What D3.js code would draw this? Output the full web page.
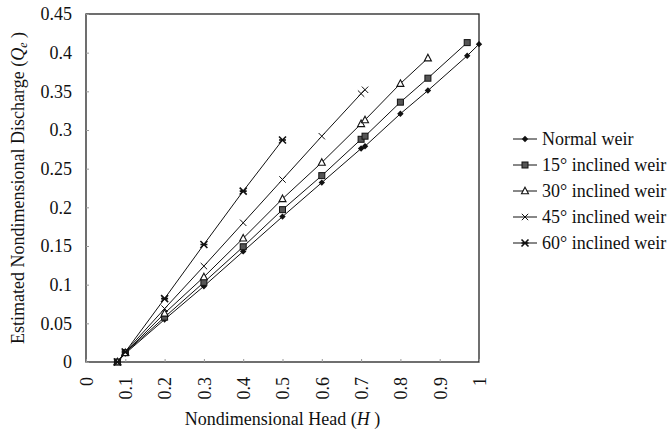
<!DOCTYPE html>
<html>
<head>
<meta charset="utf-8">
<script src="https://cdn.jsdelivr.net/npm/d3@7"></script>
<style>
  body { margin: 0; background: #fff; }
  svg text { font-family: "Liberation Serif", "Times New Roman", serif !important; fill: #111; }
</style>
</head>
<body>
<script>
var margin = {top: 14, left: 86, right: 191, bottom: 69};
var width = 670 - margin.left - margin.right;
var height = 431 - margin.top - margin.bottom;
var fontSize = 18;

// data: H and Qe for each weir
var seriesNames = ["Normal weir", "15\u00b0 inclined weir", "30\u00b0 inclined weir", "45\u00b0 inclined weir", "60\u00b0 inclined weir"];
var markers = ["diamond", "square", "triangle", "cross", "star"];

var hNormal = [0.08, 0.1, 0.2, 0.3, 0.4, 0.5, 0.6, 0.70, 0.71, 0.8, 0.87, 0.97, 1.0];
var qNormal = [0, 0.011, 0.055, 0.098, 0.143, 0.188, 0.232, 0.276, 0.279, 0.321, 0.351, 0.396, 0.411];

var h15 = [0.08, 0.1, 0.2, 0.3, 0.4, 0.5, 0.6, 0.70, 0.71, 0.8, 0.87, 0.97];
var q15 = [0, 0.012, 0.058, 0.103, 0.149, 0.197, 0.241, 0.288, 0.292, 0.336, 0.367, 0.413];

var h30 = [0.08, 0.1, 0.2, 0.3, 0.4, 0.5, 0.6, 0.70, 0.71, 0.8, 0.87];
var q30 = [0, 0.012, 0.063, 0.110, 0.160, 0.211, 0.258, 0.308, 0.313, 0.360, 0.393];

var h45 = [0.08, 0.1, 0.2, 0.3, 0.4, 0.5, 0.6, 0.70, 0.71];
var q45 = [0, 0.013, 0.069, 0.124, 0.180, 0.236, 0.292, 0.347, 0.352];

var h60 = [0.08, 0.1, 0.2, 0.3, 0.4, 0.5];
var q60 = [0, 0.013, 0.082, 0.152, 0.221, 0.287];

var xTicks = [0, 0.1, 0.2, 0.3, 0.4, 0.5, 0.6, 0.7, 0.8, 0.9, 1];
var yTicks = [0, 0.05, 0.1, 0.15, 0.2, 0.25, 0.3, 0.35, 0.4, 0.45];

var hs = [hNormal, h15, h30, h45, h60];
var qs = [qNormal, q15, q30, q45, q60];
var dataset = hs.map(function(h, i) {
  return h.map(function(v, j) { return {x: v, y: qs[i][j]}; });
});

var svg = d3.select("body")
            .append("svg")
            .attr("width", 670)
            .attr("height", 431)
            .style("font-family", "'Liberation Serif', serif");

var g = svg.append("g")
           .attr("transform", "translate(" + margin.left + "," + margin.top + ")");

var xScale = d3.scaleLinear().domain([0, 1]).range([0, width]);
var yScale = d3.scaleLinear().domain([0, 0.45]).range([height, 0]);

//frame
g.append("rect")
  .attr("width", width)
  .attr("height", height)
  .attr("fill", "none")
  .attr("stroke", "#222")
  .attr("stroke-width", 1.3);

//Y axis
var yAxis = d3.axisLeft(yScale)
              .tickValues(yTicks)
              .tickSize(-3)
              .tickPadding(14)
              .tickFormat(function(d) { return d3.format("")(+d.toFixed(2)); });

var yg = g.append("g")
  .attr("class", "axis")
  .call(yAxis);
yg.select(".domain").remove();
yg.selectAll("line").attr("stroke", "#999");
yg.selectAll("text").attr("font-size", fontSize).attr("font-family", "Liberation Serif");

//X axis
var xAxis = d3.axisBottom(xScale)
              .tickValues(xTicks)
              .tickSize(-3)
              .tickFormat(function(d) { return d3.format("")(+d.toFixed(1)); });

var xg = g.append("g")
  .attr("class", "axis")
  .attr("transform", "translate(0," + height + ")")
  .call(xAxis);
xg.select(".domain").remove();
xg.selectAll("line").attr("stroke", "#999");
xg.selectAll("text")
  .attr("font-size", fontSize)
  .attr("font-family", "Liberation Serif")
  .attr("transform", "rotate(-90)")
  .attr("x", -15)
  .attr("y", 0)
  .attr("dy", "0.35em")
  .attr("text-anchor", "end");

//lines
var line = d3.line()
             .x(function(d) { return xScale(d.x); })
             .y(function(d) { return yScale(d.y); });

g.selectAll(".series")
  .data(dataset)
  .enter()
  .append("path")
  .attr("class", "series")
  .attr("d", line)
  .attr("fill", "none")
  .attr("stroke", "#111")
  .attr("stroke-width", 1);

function drawMarker(sel, type) {
  if (type == "diamond") {
    sel.append("path").attr("d", "M0,-3.2L3.2,0L0,3.2L-3.2,0Z").attr("fill", "#111");
  } else if (type == "square") {
    sel.append("rect").attr("x", -3).attr("y", -3).attr("width", 6).attr("height", 6)
       .attr("fill", "#555").attr("stroke", "#111").attr("stroke-width", 1);
  } else if (type == "triangle") {
    sel.append("path").attr("d", "M0,-3.8L3.5,2.8L-3.5,2.8Z").attr("fill", "#fff")
       .attr("stroke", "#111").attr("stroke-width", 1.1);
  } else if (type == "cross") {
    sel.append("path").attr("d", "M-3.2,-3.2L3.2,3.2M-3.2,3.2L3.2,-3.2")
       .attr("stroke", "#111").attr("stroke-width", 1);
  } else {
    sel.append("path").attr("d", "M-3.5,-3.5L3.5,3.5M-3.5,3.5L3.5,-3.5M-3.5,0L3.5,0")
       .attr("stroke", "#111").attr("stroke-width", 1.6);
  }
}

//markers
dataset.forEach(function(series, i) {
  g.selectAll(".m" + i)
    .data(series)
    .enter()
    .append("g")
    .attr("class", "m" + i)
    .attr("transform", function(d) { return "translate(" + xScale(d.x) + "," + yScale(d.y) + ")"; })
    .each(function() { drawMarker(d3.select(this), markers[i]); });
});

//Y axis label
svg.append("text")
  .attr("font-size", fontSize)
  .attr("transform", "translate(24," + (margin.top + height / 2) + ") rotate(-90)")
  .attr("text-anchor", "middle")
  .html('Estimated Nondimensional Discharge (<tspan font-style="italic">Q</tspan><tspan font-style="italic" font-size="12px" dy="3">e</tspan><tspan dy="-3"> )</tspan>');

//X axis label
svg.append("text")
  .attr("font-size", fontSize)
  .attr("x", margin.left + width / 2)
  .attr("y", 425)
  .attr("text-anchor", "middle")
  .html('Nondimensional Head (<tspan font-style="italic">H</tspan> )');

//Legend
var legend = svg.selectAll(".legend")
                .data(seriesNames)
                .enter()
                .append("g")
                .attr("class", "legend")
                .attr("transform", function(d, i) { return "translate(513," + (139 + 26 * i) + ")"; });

legend.append("line")
  .attr("x1", 0).attr("x2", 24)
  .attr("stroke", "#111").attr("stroke-width", 1);

legend.append("g")
  .attr("transform", "translate(12,0)")
  .each(function(d, i) { drawMarker(d3.select(this), markers[i]); });

legend.append("text")
  .attr("font-size", fontSize)
  .attr("x", 29)
  .attr("dy", "0.35em")
  .text(function(d) { return d; });
</script>
</body>
</html>
